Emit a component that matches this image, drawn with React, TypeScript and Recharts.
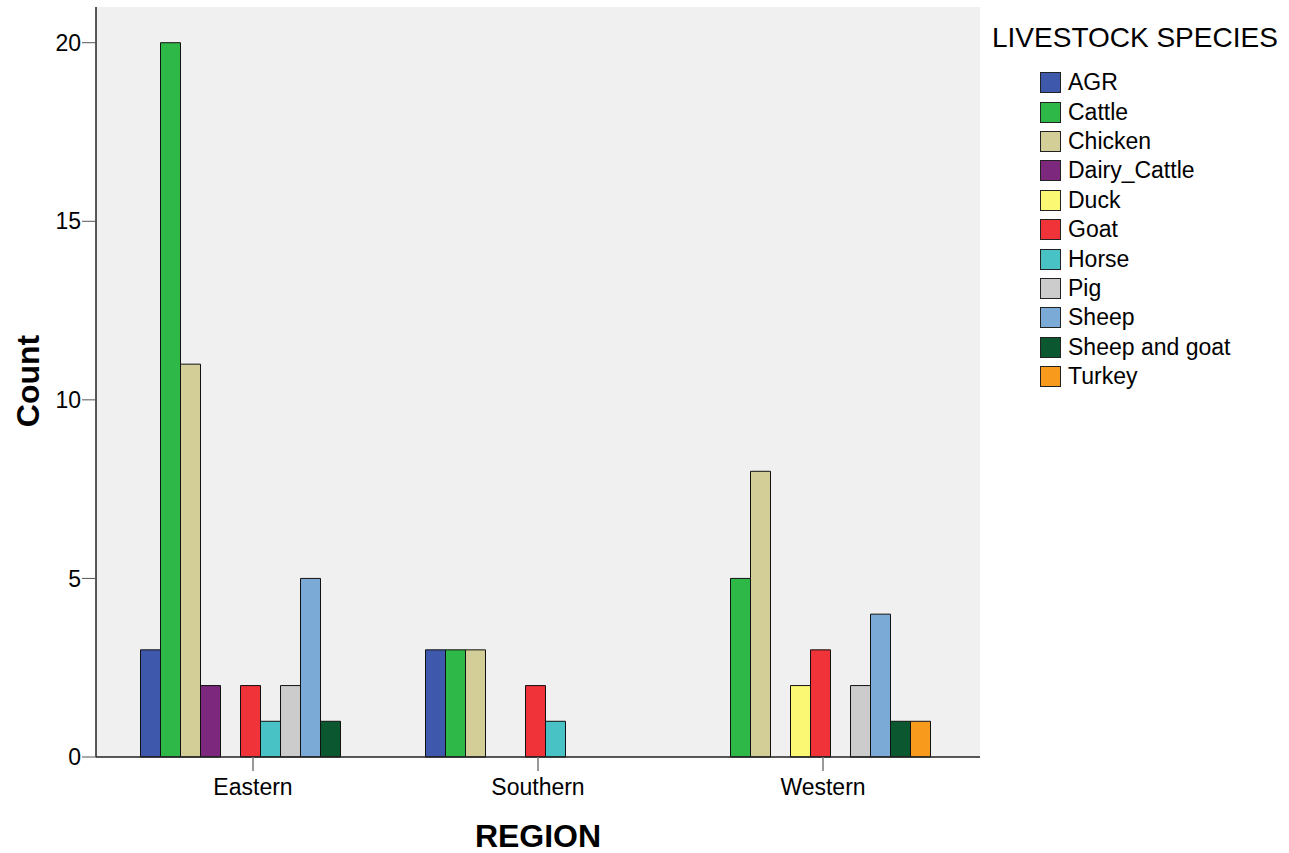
import React from 'react';
import { BarChart, Bar, XAxis, YAxis, CartesianGrid } from 'recharts';

const regions = ['Eastern', 'Southern', 'Western'];
const species = ['AGR', 'Cattle', 'Chicken', 'Dairy_Cattle', 'Duck', 'Goat', 'Horse', 'Pig', 'Sheep', 'Sheep and goat', 'Turkey'];
const colors = ['#3E58AC', '#2EB848', '#D3CE97', '#7B287D', '#FBF873', '#EF3338', '#48C2C5', '#CCCCCC', '#7BAAD7', '#0A5730', '#F89A1C'];

const agr = [3, 3, 0];
const cattle = [20, 3, 5];
const chicken = [11, 3, 8];
const dairyCattle = [2, 0, 0];
const duck = [0, 0, 2];
const goat = [2, 2, 3];
const horse = [1, 1, 0];
const pig = [2, 0, 2];
const sheep = [5, 0, 4];
const sheepAndGoat = [1, 0, 1];
const turkey = [0, 0, 1];

const yTicks = [0, 5, 10, 15, 20];

const seriesValues = [agr, cattle, chicken, dairyCattle, duck, goat, horse, pig, sheep, sheepAndGoat, turkey];

const data = regions.map((r, i) => {
  const row: Record<string, string | number> = { region: r };
  species.forEach((s, j) => {
    row[s] = seriesValues[j][i];
  });
  return row;
});

const FONT = '"Liberation Sans", Arial, sans-serif';

const LegendBox = () => (
  <div style={{ position: 'absolute', left: 992, top: 22, fontFamily: FONT, color: '#000' }}>
    <div style={{ fontSize: 28, lineHeight: '32px', marginBottom: 14, whiteSpace: 'nowrap' }}>LIVESTOCK SPECIES</div>
    {species.map((s, i) => (
      <div key={s} style={{ display: 'flex', alignItems: 'center', height: 29.4, marginLeft: 48 }}>
        <div style={{ width: 21, height: 21, background: colors[i], border: '1px solid #222', boxSizing: 'border-box', marginRight: 7 }} />
        <span style={{ fontSize: 23, whiteSpace: 'nowrap' }}>{s}</span>
      </div>
    ))}
  </div>
);

export default function App() {
  return (
    <div style={{ position: 'absolute', left: 0, top: 0, width: 1289, height: 853, background: '#fff' }}>
      <BarChart
        width={1289}
        height={853}
        data={data}
        margin={{ top: 7, right: 309, bottom: 56, left: 36 }}
        barCategoryGap={30}
        barGap={0}
      >
        <CartesianGrid horizontal={false} vertical={false} fill="#F0F0F0" />
        <XAxis
          xAxisId="bottom"
          dataKey="region"
          padding={{ left: 14.5, right: 14.5 }}
          height={40}
          axisLine={{ stroke: '#222', strokeWidth: 1.5 }}
          tickLine={{ stroke: '#777', strokeWidth: 1.5 }}
          tickSize={14}
          tick={{ fill: '#000', fontSize: 23, fontFamily: FONT }}
          tickMargin={8}
        />
        <XAxis
          xAxisId="top"
          orientation="top"
          dataKey="region"
          height={0}
          tick={false}
          tickLine={false}
          axisLine={{ stroke: '#222', strokeWidth: 1.5 }}
        />
        <YAxis
          yAxisId="left"
          width={60}
          domain={[0, 21]}
          ticks={yTicks}
          axisLine={{ stroke: '#222', strokeWidth: 1.5 }}
          tickLine={{ stroke: '#555', strokeWidth: 1 }}
          tickSize={14}
          tickMargin={1}
          tick={{ fill: '#000', fontSize: 23, fontFamily: FONT }}
        />
        <YAxis
          yAxisId="right"
          orientation="right"
          width={0}
          domain={[0, 21]}
          tick={false}
          tickLine={false}
          axisLine={{ stroke: '#888', strokeWidth: 1.5 }}
        />
        {species.map((s, i) => (
          <Bar
            key={s}
            dataKey={s}
            xAxisId="bottom"
            yAxisId="left"
            fill={colors[i]}
            stroke="#111"
            strokeWidth={1}
            isAnimationActive={false}
          />
        ))}
      </BarChart>
      <LegendBox />
      <div
        style={{
          position: 'absolute',
          left: 28,
          top: 381,
          transform: 'translate(-50%, -50%) rotate(-90deg)',
          fontFamily: FONT,
          fontWeight: 'bold',
          fontSize: 32,
          color: '#000',
          whiteSpace: 'nowrap',
        }}
      >
        Count
      </div>
      <div
        style={{
          position: 'absolute',
          left: 538,
          top: 836,
          transform: 'translate(-50%, -50%)',
          fontFamily: FONT,
          fontWeight: 'bold',
          fontSize: 32,
          color: '#000',
          whiteSpace: 'nowrap',
        }}
      >
        REGION
      </div>
    </div>
  );
}
